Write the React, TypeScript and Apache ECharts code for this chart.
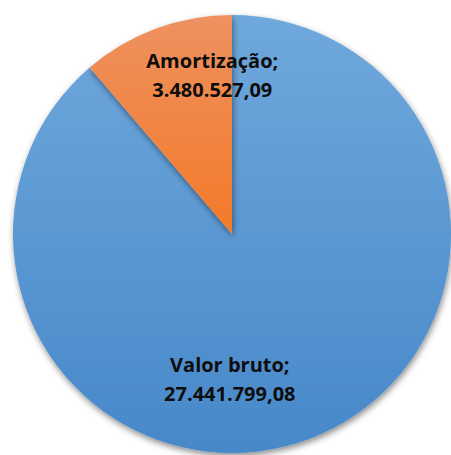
import React, { useEffect, useRef } from "react";
import * as echarts from "echarts";

const categories = ["Valor bruto", "Amortização"];
const values = [27441799.08, 3480527.09];
const labelTexts = ["27.441.799,08", "3.480.527,09"];

const W = 451;
const H = 455;

export default function App() {
  const ref = useRef<HTMLDivElement>(null);
  useEffect(() => {
    if (!ref.current) return;
    const chart = echarts.init(ref.current, null, { renderer: "svg" });
    const cx = 232;
    const cy = 234;
    const r = 219;
    // label anchor positions relative to the pie centre (fractions of radius)
    const labelPos = [
      { x: cx - 0.01 * r, y: cy + 0.66 * r },
      { x: cx - 0.09 * r, y: cy - 0.725 * r },
    ];
    const grad = (top: string, bottom: string) =>
      new echarts.graphic.LinearGradient(0, 0, 0, 1, [
        { offset: 0, color: top },
        { offset: 1, color: bottom },
      ]);
    chart.setOption({
      animation: false,
      backgroundColor: "#ffffff",
      series: [
        {
          type: "pie",
          center: [cx, cy],
          radius: [0, r],
          startAngle: 90,
          clockwise: true,
          avoidLabelOverlap: false,
          data: categories.map((c, i) => ({
            name: c,
            value: values[i],
            itemStyle: {
              color:
                i === 0 ? grad("#6fa8dc", "#4788c9") : grad("#ee9160", "#f37a28"),
            },
          })),
          itemStyle: {
            borderWidth: 0,
            shadowBlur: 6,
            shadowColor: "rgba(0,0,0,0.45)",
            shadowOffsetX: 1,
            shadowOffsetY: 3,
          },
          label: {
            show: true,
            position: "inside",
            formatter: (p: any) => `${p.name};\n${labelTexts[p.dataIndex]}`,
            fontFamily: "Open Sans",
            fontWeight: "bold",
            fontSize: 20,
            lineHeight: 29,
            color: "#0d0d0d",
            align: "center",
          },
          labelLine: { show: false },
          labelLayout: (p: any) => ({
            x: labelPos[p.dataIndex].x,
            y: labelPos[p.dataIndex].y,
            align: "center",
            verticalAlign: "middle",
          }),
          emphasis: { disabled: true },
        },
      ],
    });
    return () => chart.dispose();
  }, []);
  return (
    <div
      ref={ref}
      style={{ position: "fixed", left: 0, top: 0, width: W, height: H }}
    />
  );
}
